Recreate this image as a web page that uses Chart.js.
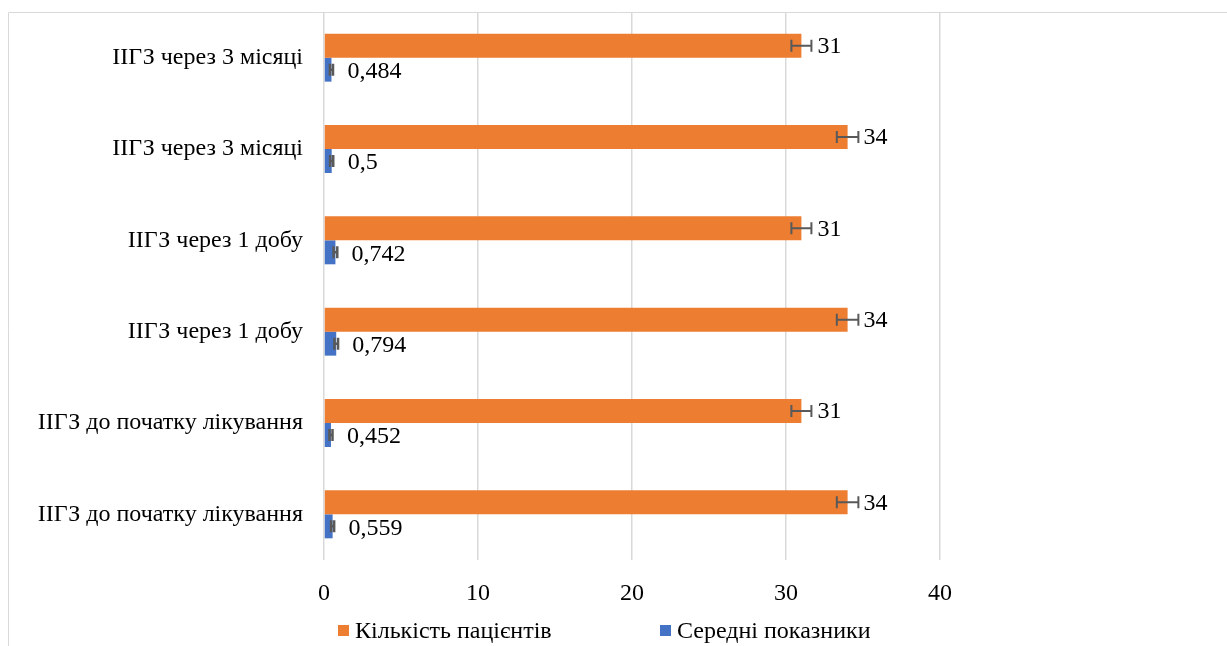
<!DOCTYPE html>
<html>
<head>
<meta charset="utf-8">
<script src="https://cdn.jsdelivr.net/npm/chart.js@4/dist/chart.umd.min.js"></script>
<style>
  html, body { margin: 0; padding: 0; background: #ffffff; }
  #wrap { width: 1227px; height: 646px; position: relative; }
</style>
</head>
<body>
<div id="wrap"><canvas id="chart" width="1227" height="646"></canvas></div>
<script>
// Categories, top to bottom
const categories = [
  'ІІГЗ через 3 місяці',
  'ІІГЗ через 3 місяці',
  'ІІГЗ через 1 добу',
  'ІІГЗ через 1 добу',
  'ІІГЗ до початку лікування',
  'ІІГЗ до початку лікування'
];
// Number of patients and its error margin
const patientCounts = [31, 34, 31, 34, 31, 34];
const patientErrors = [0.65, 0.7, 0.65, 0.7, 0.65, 0.7];
// Mean index values and their error margin
const meanScores = [0.484, 0.5, 0.742, 0.794, 0.452, 0.559];
const meanErrors = [0.1, 0.1, 0.12, 0.12, 0.1, 0.1];
// Value axis ticks
const xTicks = [0, 10, 20, 30, 40];

const seriesNames = ['Кількість пацієнтів', 'Середні показники'];
const seriesColors = ['#ED7D31', '#4472C4'];

const SERIF = "'Liberation Serif', 'Times New Roman', serif";
const FONT_SIZE = 24;
const GRID = '#d9d9d9';
const ERR = '#595959';

// Outer chart frame (top and left edges)
const framePlugin = {
  id: 'frame',
  beforeDraw(chart) {
    const c = chart.ctx;
    c.save();
    c.strokeStyle = GRID;
    c.lineWidth = 1;
    c.beginPath();
    c.moveTo(8.5, chart.height);
    c.lineTo(8.5, 12.5);
    c.lineTo(chart.width, 12.5);
    c.stroke();
    c.restore();
  }
};

// Error bars with end caps
const errorBarPlugin = {
  id: 'errorBars',
  afterDatasetsDraw(chart) {
    const c = chart.ctx;
    const xs = chart.scales.x;
    c.save();
    c.strokeStyle = ERR;
    chart.data.datasets.forEach((ds, di) => {
      const meta = chart.getDatasetMeta(di);
      c.lineWidth = di === 0 ? 2 : 2.5;
      meta.data.forEach((el, i) => {
        const v = ds.data[i], e = ds.errors[i];
        const x1 = xs.getPixelForValue(v - e);
        const x2 = xs.getPixelForValue(v + e);
        const y = el.y;
        const h = 6;
        c.beginPath();
        c.moveTo(x1, y); c.lineTo(x2, y);
        c.moveTo(x1, y - h); c.lineTo(x1, y + h);
        c.moveTo(x2, y - h); c.lineTo(x2, y + h);
        c.stroke();
      });
    });
    c.restore();
  }
};

// Value labels right of each bar
const valueLabelPlugin = {
  id: 'valueLabels',
  afterDatasetsDraw(chart) {
    const c = chart.ctx;
    const xs = chart.scales.x;
    c.save();
    c.fillStyle = '#000';
    c.font = FONT_SIZE + 'px ' + SERIF;
    c.textAlign = 'left';
    c.textBaseline = 'middle';
    chart.data.datasets.forEach((ds, di) => {
      const meta = chart.getDatasetMeta(di);
      meta.data.forEach((el, i) => {
        const v = ds.data[i];
        const txt = String(v).replace('.', ',');
        c.fillText(txt, xs.getPixelForValue(v) + 16, el.y + (di === 0 ? 1 : 2));
      });
    });
    c.restore();
  }
};

// Legend row under the axis
const legendPlugin = {
  id: 'bottomLegend',
  afterDraw(chart) {
    const c = chart.ctx;
    const positions = [338, 660];
    const y = 631;
    c.save();
    c.font = FONT_SIZE + 'px ' + SERIF;
    c.textAlign = 'left';
    c.textBaseline = 'middle';
    chart.data.datasets.forEach((ds, di) => {
      const x = positions[di];
      c.fillStyle = ds.backgroundColor;
      c.fillRect(x, y - 6, 11, 11);
      c.fillStyle = '#000';
      c.fillText(ds.label, x + 17, y + 1);
    });
    c.restore();
  }
};

new Chart(document.getElementById('chart'), {
  type: 'bar',
  data: {
    labels: categories,
    datasets: [
      { label: seriesNames[0], data: patientCounts, errors: patientErrors,
        backgroundColor: seriesColors[0], categoryPercentage: 0.525, barPercentage: 1 },
      { label: seriesNames[1], data: meanScores, errors: meanErrors,
        backgroundColor: seriesColors[1], categoryPercentage: 0.525, barPercentage: 1 }
    ]
  },
  options: {
    indexAxis: 'y',
    responsive: false,
    animation: false,
    layout: { padding: { left: 8, top: 12, right: 287, bottom: 36 } },
    plugins: { legend: { display: false }, tooltip: { enabled: false } },
    scales: {
      x: {
        min: 0, max: 40,
        afterBuildTicks(s) { s.ticks = xTicks.map(v => ({ value: v })); },
        ticks: { font: { family: SERIF, size: FONT_SIZE }, color: '#000', padding: 19, maxRotation: 0 },
        grid: { color: GRID, lineWidth: 1.5, drawTicks: false },
        border: { display: false },
        afterFit(s) { s.height = 50; s.paddingLeft = 0; s.paddingRight = 0; }
      },
      y: {
        ticks: { font: { family: SERIF, size: FONT_SIZE }, color: '#000', padding: 21 },
        grid: { display: false, drawTicks: false },
        border: { display: false },
        afterFit(s) { s.width = 316; s.paddingTop = 0; s.paddingBottom = 0; }
      }
    }
  },
  plugins: [framePlugin, errorBarPlugin, valueLabelPlugin, legendPlugin]
});
</script>
</body>
</html>
